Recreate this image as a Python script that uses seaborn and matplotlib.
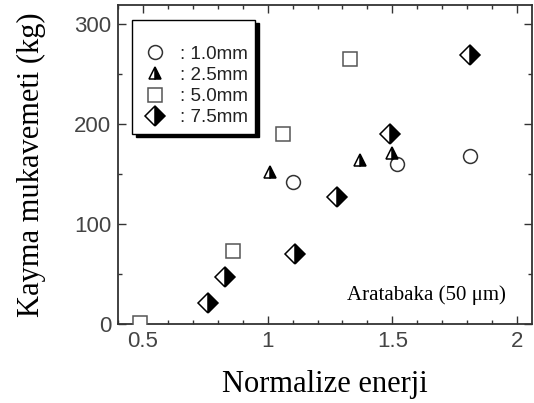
import matplotlib
matplotlib.use("Agg")
import matplotlib.pyplot as plt
import seaborn as sns
import pandas as pd
from matplotlib.ticker import MultipleLocator

# Data
labels = [": 1.0mm", ": 2.5mm", ": 5.0mm", ": 7.5mm"]
x_10 = [1.10, 1.52, 1.81]
y_10 = [142, 160, 168]
x_25 = [1.01, 1.37, 1.50]
y_25 = [152, 164, 171]
x_50 = [0.49, 0.86, 1.06, 1.33]
y_50 = [1, 73, 190, 265]
x_75 = [0.76, 0.83, 1.11, 1.28, 1.49, 1.81]
y_75 = [21, 47, 70, 127, 190, 269]
xticks = [0.5, 1, 1.5, 2]
xticklabels = ["0.5", "1", "1.5", "2"]
yticks = [0, 100, 200, 300]
yticklabels = ["0", "100", "200", "300"]

sns.set_style("ticks")
plt.rcParams['font.family'] = ['Liberation Sans', 'DejaVu Sans']

fig = plt.figure(figsize=(5.34, 4.03), dpi=100)
ax = fig.add_axes([118/534, 79/403, 414/534, 319/403])

spine_c = "#333333"
tick_c = "#444444"

styles = [
    dict(marker='o', markersize=10, markerfacecolor='white', markeredgecolor='#333333', markeredgewidth=1.1),
    dict(marker='^', markersize=9, fillstyle='right', markerfacecolor='black',
         markerfacecoloralt='white', markeredgecolor='black', markeredgewidth=1.1),
    dict(marker='s', markersize=10, markerfacecolor='white', markeredgecolor='#555555', markeredgewidth=1.1),
    dict(marker='D', markersize=10.5, fillstyle='right', markerfacecolor='black',
         markerfacecoloralt='white', markeredgecolor='black', markeredgewidth=1.1),
]
series = [(x_10, y_10), (x_25, y_25), (x_50, y_50), (x_75, y_75)]
handles = []
for (xs, ys), st, lab in zip(series, styles, labels):
    df = pd.DataFrame({"x": xs, "y": ys})
    sns.lineplot(data=df, x="x", y="y", ax=ax, sort=False, estimator=None,
                 linestyle='none', label=lab, legend=False, zorder=3, **st)
    handles.append(ax.lines[-1])

ax.set_xlim(0.4, 2.06)
ax.set_ylim(0, 319)
ax.set_xticks(xticks)
ax.set_xticklabels(xticklabels)
ax.set_yticks(yticks)
ax.set_yticklabels(yticklabels)
ax.xaxis.set_minor_locator(MultipleLocator(0.1))
ax.yaxis.set_minor_locator(MultipleLocator(50))
ax.tick_params(which='both', direction='in', top=True, right=True, colors=spine_c,
               labelcolor=tick_c, labelsize=16, width=1.0)
ax.tick_params(which='major', length=6, pad=5)
ax.tick_params(which='minor', length=3)
for s in ax.spines.values():
    s.set_color(spine_c)
    s.set_linewidth(1.3)

ax.set_xlabel("Normalize enerji", family=['Liberation Serif'], fontsize=22, color='black', labelpad=13)
ax.set_ylabel("Kayma mukavemeti (kg)", family=['Liberation Serif'], fontsize=22, color='black', labelpad=20)

ax.text(0.746, 0.091, "Aratabaka (50 μm)", transform=ax.transAxes, ha='center', va='center',
        family=['Liberation Serif', 'DejaVu Serif'], fontsize=15, color='black')

leg = ax.legend(handles=handles, labels=labels, loc='upper left',
                bbox_to_anchor=(0.034, 0.953), borderaxespad=0, frameon=True, fancybox=False,
                shadow={'facecolor': 'black', 'edgecolor': 'black', 'alpha': 1, 'ox': 2.5, 'oy': -2.5},
                edgecolor='black', fontsize=13.5, labelspacing=0.22, handlelength=1.6,
                handletextpad=0.55, borderpad=0.4, numpoints=1, title=' ',
                title_fontsize=10)
leg.get_frame().set_linewidth(1.0)
for t in leg.get_texts():
    t.set_color('#222222')

fig.savefig("out.png", dpi=100)
